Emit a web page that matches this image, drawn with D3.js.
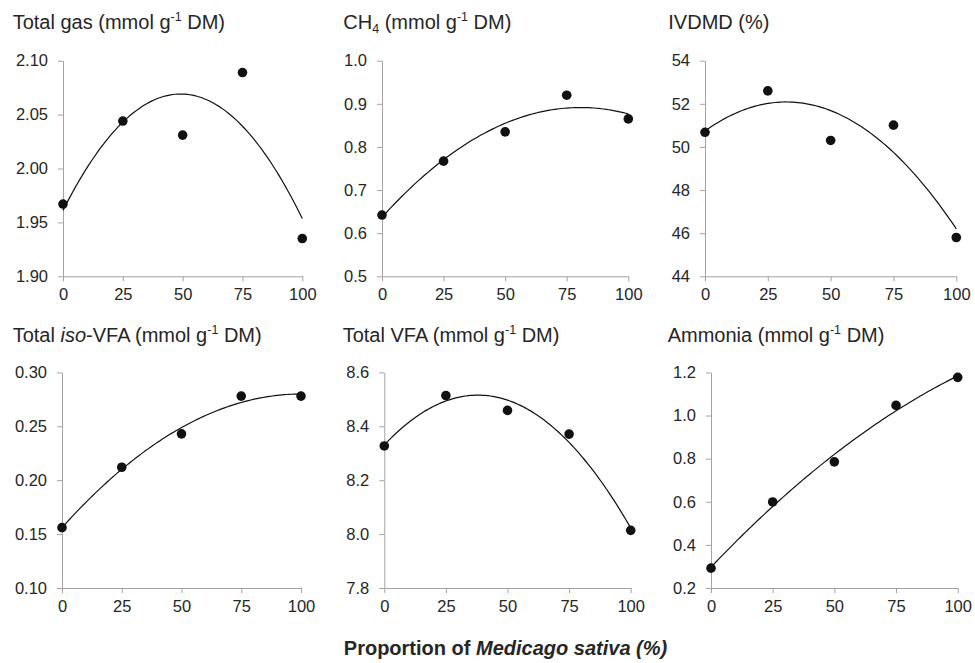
<!DOCTYPE html>
<html>
<head>
<meta charset="utf-8">
<script src="https://cdn.jsdelivr.net/npm/d3@7"></script>
<style>
  html, body { margin: 0; padding: 0; background: #fff; }
  svg { display: block; font-family: "Liberation Sans", Arial, Helvetica, sans-serif; }
</style>
</head>
<body>
<svg id="chart" width="975" height="663"></svg>
<script>
// ---------------- data ----------------
const proportions = [0, 25, 50, 75, 100];
const xTickValues = [0, 25, 50, 75, 100];

const totalGas = [1.967, 2.044, 2.031, 2.089, 1.935];
const ch4 = [0.642, 0.767, 0.835, 0.920, 0.865];
const ivdmd = [50.68, 52.60, 50.30, 51.01, 45.80];
const isoVfa = [0.156, 0.212, 0.243, 0.278, 0.278];
const totalVfa = [8.327, 8.514, 8.459, 8.371, 8.014];
const ammonia = [0.292, 0.599, 0.785, 1.047, 1.177];

const gasTicks = [1.90, 1.95, 2.00, 2.05, 2.10];
const ch4Ticks = [0.5, 0.6, 0.7, 0.8, 0.9, 1.0];
const ivdmdTicks = [44, 46, 48, 50, 52, 54];
const isoTicks = [0.10, 0.15, 0.20, 0.25, 0.30];
const vfaTicks = [7.8, 8.0, 8.2, 8.4, 8.6];
const ammoniaTicks = [0.2, 0.4, 0.6, 0.8, 1.0, 1.2];

const xAxisTitle = ["Proportion of ", "Medicago sativa (%)"];

// ---------------- layout ----------------
const panels = [
  { values: totalGas, ticks: gasTicks, fmt: ".2f", title: [["Total gas (mmol g", "n"], ["-1", "sup"], [" DM)", "n"]],
    x0: 63, x1: 302.3, y0: 60.7, y1: 276.3, tx: 12.7, ty: 28.5 },
  { values: ch4, ticks: ch4Ticks, fmt: ".1f", title: [["CH", "n"], ["4", "sub"], [" (mmol g", "n"], ["-1", "sup"], [" DM)", "n"]],
    x0: 382, x1: 628.3, y0: 60.7, y1: 276.3, tx: 343.3, ty: 28.5 },
  { values: ivdmd, ticks: ivdmdTicks, fmt: "d", title: [["IVDMD (%)", "n"]],
    x0: 705, x1: 956.3, y0: 60.7, y1: 276.3, tx: 668.3, ty: 28.5 },
  { values: isoVfa, ticks: isoTicks, fmt: ".2f", title: [["Total ", "n"], ["iso", "i"], ["-VFA (mmol g", "n"], ["-1", "sup"], [" DM)", "n"]],
    x0: 62, x1: 301, y0: 372.4, y1: 588, tx: 12.7, ty: 341.7 },
  { values: totalVfa, ticks: vfaTicks, fmt: ".1f", title: [["Total VFA (mmol g", "n"], ["-1", "sup"], [" DM)", "n"]],
    x0: 384.3, x1: 630.7, y0: 372.4, y1: 588, tx: 342.7, ty: 341.7 },
  { values: ammonia, ticks: ammoniaTicks, fmt: ".1f", title: [["Ammonia (mmol g", "n"], ["-1", "sup"], [" DM)", "n"]],
    x0: 711, x1: 957.7, y0: 372.4, y1: 588, tx: 667.7, ty: 341.7 }
];

const axisColor = "#a3a3a3";
const textColor = "#262626";
const titleSize = 20, smallSize = 12.5, supShift = -8, subShift = 4;

// quadratic least squares fit
function quadFit(xs, ys) {
  const n = xs.length;
  let s = [0, 0, 0, 0, 0], t = [0, 0, 0];
  for (let i = 0; i < n; i++) {
    let p = 1;
    for (let k = 0; k < 5; k++) { s[k] += p; if (k < 3) t[k] += p * ys[i]; p *= xs[i]; }
  }
  const A = [[s[0], s[1], s[2], t[0]], [s[1], s[2], s[3], t[1]], [s[2], s[3], s[4], t[2]]];
  for (let c = 0; c < 3; c++) {
    for (let r = c + 1; r < 3; r++) {
      const f = A[r][c] / A[c][c];
      for (let k = c; k < 4; k++) A[r][k] -= f * A[c][k];
    }
  }
  const coef = [0, 0, 0];
  for (let r = 2; r >= 0; r--) {
    let v = A[r][3];
    for (let k = r + 1; k < 3; k++) v -= A[r][k] * coef[k];
    coef[r] = v / A[r][r];
  }
  return x => coef[0] + coef[1] * x + coef[2] * x * x;
}

const svg = d3.select("#chart");
svg.append("rect").attr("width", 975).attr("height", 663).attr("fill", "#fff");

panels.forEach(p => {
  const x = d3.scaleLinear().domain([0, 100]).range([p.x0, p.x1]);
  const y = d3.scaleLinear().domain([p.ticks[0], p.ticks[p.ticks.length - 1]]).range([p.y1, p.y0]);
  const g = svg.append("g");

  // title
  const t = g.append("text").attr("x", p.tx).attr("y", p.ty)
    .attr("fill", textColor).style("font-size", titleSize + "px");
  let shift = 0;
  p.title.forEach(([str, kind]) => {
    const ts = t.append("tspan").text(str);
    if (kind === "sup") { ts.style("font-size", smallSize + "px").attr("dy", supShift - shift); shift = supShift; }
    else if (kind === "sub") { ts.style("font-size", smallSize + "px").attr("dy", subShift - shift); shift = subShift; }
    else {
      if (kind === "i") ts.style("font-style", "italic");
      if (shift !== 0) { ts.attr("dy", -shift); shift = 0; }
    }
  });

  // axes
  const yAxis = d3.axisLeft(y).tickValues(p.ticks).tickFormat(d3.format(p.fmt))
    .tickSize(5).tickSizeOuter(0).tickPadding(10);
  const xAxis = d3.axisBottom(x).tickValues(xTickValues).tickFormat(d3.format("d"))
    .tickSize(5).tickSizeOuter(0).tickPadding(7);

  const ya = g.append("g").attr("transform", `translate(${p.x0},0)`).call(yAxis);
  const xa = g.append("g").attr("transform", `translate(0,${p.y1})`).call(xAxis);
  [ya, xa].forEach(a => {
    a.select(".domain").attr("stroke", axisColor).attr("stroke-width", 1);
    a.selectAll(".tick line").attr("stroke", axisColor).attr("stroke-width", 1);
    a.selectAll(".tick text").attr("fill", textColor)
      .style("font-size", "16.5px").style("font-family", "'Liberation Sans', Arial, sans-serif");
  });

  // trend curve
  const f = quadFit(proportions, p.values);
  const samples = d3.range(0, 100.001, 1);
  g.append("path")
    .attr("d", d3.line().x(d => x(d)).y(d => y(f(d)))(samples))
    .attr("fill", "none").attr("stroke", "#111").attr("stroke-width", 1.2);

  // points
  g.selectAll("circle").data(proportions.map((v, i) => [v, p.values[i]])).join("circle")
    .attr("cx", d => x(d[0])).attr("cy", d => y(d[1])).attr("r", 4.8).attr("fill", "#111");
});

// shared x axis title
const xt = svg.append("text").attr("x", 505.5).attr("y", 655).attr("text-anchor", "middle")
  .attr("fill", textColor).style("font-size", "20px").style("font-weight", "bold");
xt.append("tspan").text(xAxisTitle[0]);
xt.append("tspan").text(xAxisTitle[1]).style("font-style", "italic");
</script>
</body>
</html>
